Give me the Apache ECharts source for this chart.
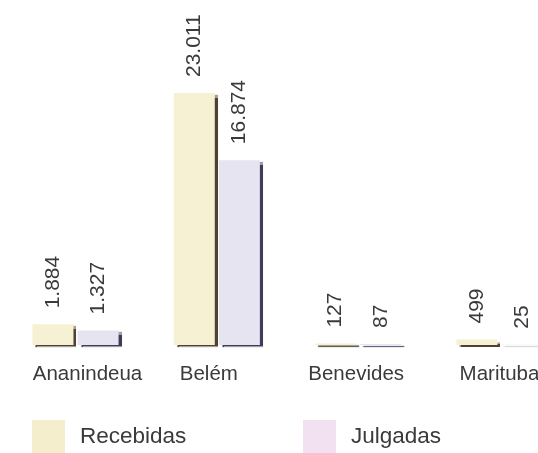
<!DOCTYPE html>
<html>
<head>
<meta charset="utf-8">
<script src="https://cdn.jsdelivr.net/npm/echarts@6/dist/echarts.min.js"></script>
<style>html,body{margin:0;padding:0;background:#fff;overflow:hidden;}#c{width:538px;height:453px;}</style>
</head>
<body>
<div id="c"></div>
<script>
const categories = ['Ananindeua', 'Belém', 'Benevides', 'Marituba'];
const recebidas = [1884, 23011, 127, 499];
const julgadas = [1327, 16874, 87, 25];
const seriesNames = ['Recebidas', 'Julgadas'];

function fmt(v) {
  return String(v).replace(/\B(?=(\d{3})+(?!\d))/g, '.');
}

const chart = echarts.init(document.getElementById('c'));
const font = '"Liberation Sans", Arial, sans-serif';
const labelCfg = {
  show: true, position: 'top', rotate: 90, distance: 16,
  align: 'left', verticalAlign: 'middle',
  fontSize: 21, color: '#3a3a3a', fontFamily: font,
  formatter: p => fmt(p.value)
};
// small horizontal nudges of the category labels, as in the original layout
const labelPad = [[0, 0, 0, 24], [0, 16, 0, 0], [0, 4, 0, 0], [0, 0, 0, 0]];
const xData = categories.map((c, i) => ({ value: c, textStyle: { padding: labelPad[i] } }));
const legendText = { fontSize: 22.5, color: '#3a3a3a', fontFamily: font, padding: [10, 0, 0, 10] };
chart.setOption({
  backgroundColor: '#ffffff',
  animation: false,
  grid: { left: 4.85, width: 565.3, top: 16.5, bottom: 108, containLabel: false, outerBoundsMode: 'none' },
  xAxis: {
    type: 'category', data: xData,
    axisLine: { show: false }, axisTick: { show: false },
    axisLabel: { margin: 19, fontSize: 20.5, color: '#3a3a3a', fontFamily: font, interval: 0, hideOverlap: false }
  },
  yAxis: { type: 'value', min: 0, max: 30000, show: false, splitLine: { show: false } },
  legend: [
    { data: [{ name: seriesNames[0], itemStyle: { color: '#f5eecd' } }], left: 32, top: 420, padding: 0,
      itemWidth: 33, itemHeight: 33, icon: 'rect', textStyle: legendText },
    { data: [{ name: seriesNames[1], itemStyle: { color: '#f2e2f1' } }], left: 303, top: 420, padding: 0,
      itemWidth: 33, itemHeight: 33, icon: 'rect', textStyle: legendText }
  ],
  series: [
    { name: seriesNames[0], type: 'bar', data: recebidas, barWidth: 41, barGap: '10%',
      itemStyle: { color: '#f6f1d2', shadowColor: 'rgba(60,45,30,0.9)', shadowOffsetX: 3, shadowOffsetY: 2, shadowBlur: 1 },
      label: labelCfg },
    { name: seriesNames[1], type: 'bar', data: julgadas, barWidth: 41,
      itemStyle: { color: '#e6e4f1', shadowColor: 'rgba(40,40,70,0.9)', shadowOffsetX: 3, shadowOffsetY: 2, shadowBlur: 1 },
      label: labelCfg }
  ]
});
</script>
</body>
</html>
